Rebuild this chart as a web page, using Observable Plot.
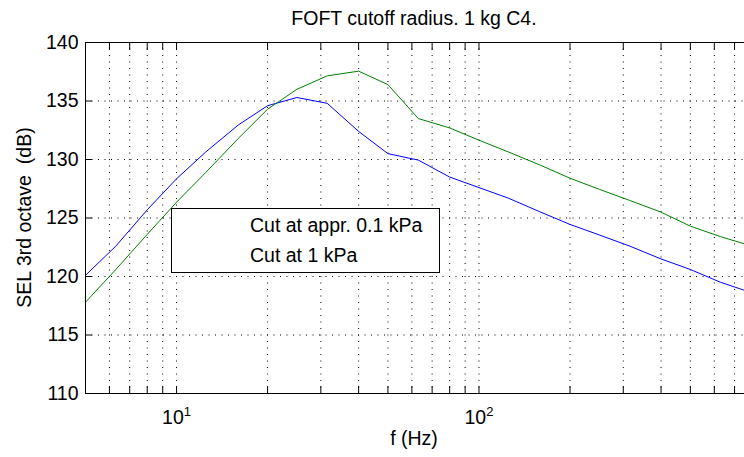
<!DOCTYPE html>
<html><head><meta charset="utf-8">
<script src="https://cdn.jsdelivr.net/npm/d3@7"></script>
<script src="https://cdn.jsdelivr.net/npm/@observablehq/plot@0.6"></script>
<style>html,body{margin:0;padding:0;background:#fff;}</style>
</head><body><div id="chart"></div>
<script>
// 1/3-octave band centre frequencies (Hz)
const freqs = [5, 6.3, 8, 10, 12.5, 16, 20, 25, 31.5, 40, 50, 63, 80, 100, 125, 160, 200, 250, 315, 400, 500, 630, 800];
// SEL (dB), cut at approx. 0.1 kPa (blue)
const selCut01 = [120.1, 122.6, 125.7, 128.35, 130.65, 132.95, 134.6, 135.3, 134.8, 132.4, 130.5, 129.95, 128.5, 127.6, 126.7, 125.5, 124.45, 123.55, 122.6, 121.5, 120.6, 119.5, 118.6];
// SEL (dB), cut at 1 kPa (green)
const selCut1 = [117.8, 120.6, 123.6, 126.35, 128.9, 131.8, 134.3, 136.0, 137.15, 137.55, 136.4, 133.5, 132.7, 131.65, 130.65, 129.5, 128.4, 127.45, 126.5, 125.5, 124.3, 123.4, 122.6];
const seriesNames = ["Cut at appr. 0.1 kPa", "Cut at 1 kPa"];
const seriesColors = ["#0000ff", "#008000"];
const xTicks = [5, 6, 7, 8, 9, 10, 20, 30, 40, 50, 60, 70, 80, 90, 100, 200, 300, 400, 500, 600, 700];
const xLabels = {10: "10|1", 100: "10|2"};
const yTicks = [110, 115, 120, 125, 130, 135, 140];
const titleText = "FOFT cutoff radius. 1 kg C4.";
const xLabelText = "f (Hz)";
const yLabelText = "SEL 3rd octave  (dB)";

const rows = [];
freqs.forEach((f, i) => {
  rows.push({f, v: selCut01[i], s: seriesNames[0]});
  rows.push({f, v: selCut1[i], s: seriesNames[1]});
});

const W = 744, H = 457;
const font = "'Liberation Sans', Arial, Helvetica, sans-serif";
const fs = "19.5px";

const svg = Plot.plot({
  width: W, height: H,
  marginLeft: 85, marginRight: 0, marginTop: 42, marginBottom: 64,
  style: {fontSize: fs, fontFamily: font, background: "white", color: "black", overflow: "visible"},
  x: {type: "log", domain: [5, 755]},
  y: {domain: [110, 140]},
  color: {domain: seriesNames, range: seriesColors},
  marks: [
    Plot.gridX(xTicks, {stroke: "black", strokeOpacity: 1, strokeDasharray: "1,5.5"}),
    Plot.gridY([115, 120, 125, 130, 135], {stroke: "black", strokeOpacity: 1, strokeDasharray: "1,5.5"}),
    Plot.line(rows, {x: "f", y: "v", z: "s", stroke: "s", strokeWidth: 1, clip: true}),
    Plot.ruleY([110, 140], {stroke: "black", strokeWidth: 1}),
    Plot.ruleX([5], {stroke: "black", strokeWidth: 1}),
    Plot.axisX({anchor: "bottom", ticks: xTicks, tickSize: -7, tickPadding: 24, label: null,
      tickFormat: d => xLabels[d] || ""}),
    Plot.axisX({anchor: "top", ticks: xTicks, tickSize: -7, label: null, tickFormat: () => ""}),
    Plot.axisY({anchor: "left", ticks: yTicks, tickSize: -7, tickPadding: 14, label: null})
  ]
});

const s = d3.select(svg);
// superscript exponents on decade labels
s.selectAll('g[aria-label="x-axis tick label"] text').each(function () {
  const t = this.textContent;
  if (!t.includes("|")) return;
  const [base, exp] = t.split("|");
  const el = d3.select(this);
  el.text(null);
  el.append("tspan").text(base);
  el.append("tspan").attr("dy", "-8").attr("font-size", "13px").text(exp);
});

// title
s.append("text").attr("x", 414).attr("y", 25).attr("text-anchor", "middle")
  .attr("font-family", font).attr("font-size", fs).attr("fill", "black").text(titleText);
// x label
s.append("text").attr("x", 414).attr("y", 445).attr("text-anchor", "middle")
  .attr("font-family", font).attr("font-size", fs).attr("fill", "black").text(xLabelText);
// y label
s.append("text").attr("transform", "translate(31,217.5) rotate(-90)").attr("text-anchor", "middle")
  .attr("font-family", font).attr("font-size", fs).attr("fill", "black")
  .style("white-space", "pre").attr("xml:space", "preserve").text(yLabelText);

// legend box
const lg = s.append("g").attr("aria-label", "legend");
lg.append("rect").attr("x", 171.5).attr("y", 208.5).attr("width", 268).attr("height", 64)
  .attr("fill", "white").attr("stroke", "black").attr("stroke-width", 1);
seriesNames.forEach((n, i) => {
  lg.append("text").attr("x", 250).attr("y", 232 + i * 30).attr("text-anchor", "start")
    .attr("font-family", font).attr("font-size", fs).attr("fill", "black").text(n);
});

document.getElementById("chart").appendChild(svg);
</script>
</body></html>
